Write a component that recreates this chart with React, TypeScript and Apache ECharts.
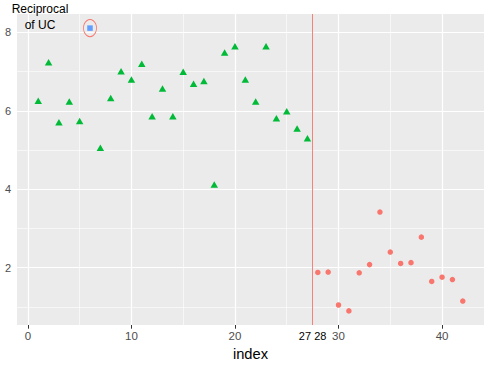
import React, { useEffect, useRef } from "react";
import * as echarts from "echarts";

const greenIndex = [1, 2, 3, 4, 5, 7, 8, 9, 10, 11, 12, 13, 14, 15, 16, 17, 18, 19, 20, 21, 22, 23, 24, 25, 26, 27];
const greenValue = [6.26, 7.24, 5.71, 6.24, 5.74, 5.06, 6.33, 7.01, 6.8, 7.2, 5.86, 6.57, 5.86, 7.0, 6.69, 6.76, 4.12, 7.49, 7.65, 6.8, 6.24, 7.65, 5.81, 5.99, 5.55, 5.3];
const redIndex = [28, 29, 30, 31, 32, 33, 34, 35, 36, 37, 38, 39, 40, 41, 42];
const redValue = [1.88, 1.89, 1.05, 0.9, 1.87, 2.08, 3.42, 2.4, 2.11, 2.13, 2.78, 1.65, 1.76, 1.7, 1.15];
const blueIndex = [6];
const blueValue = [8.11];

const xMajor = [0, 10, 20, 30, 40];
const xMinor = [5, 15, 25, 35];
const yMajor = [2, 4, 6, 8];
const yMinor = [1, 3, 5, 7];
const splitIndex = [27.5];
const splitLabel = "27 28";
const xRange = [-1.05, 44.05];
const yRange = [0.54, 8.47];
const xTitle = "index";
const yTitleLines = ["Reciprocal", "of UC"];

const FONT = "'Liberation Sans', Arial, Helvetica, sans-serif";

export default function App() {
  const ref = useRef<HTMLDivElement>(null);
  useEffect(() => {
    document.body.style.margin = "0";
    const chart = echarts.init(ref.current!, null, { renderer: "svg" });
    const zip = (xs: number[], ys: number[]) => xs.map((x, i) => [x, ys[i]]);
    const gl = (axis: string, values: number[], width: number) =>
      values.map((v) => ({ [axis]: v, lineStyle: { width, color: "#FFFFFF", type: "solid" } }));
    chart.setOption({
      animation: false,
      backgroundColor: "#FFFFFF",
      grid: { left: 17, right: 7, top: 14, bottom: 43, show: true, backgroundColor: "#EBEBEB", borderWidth: 0 },
      title: yTitleLines.map((line, i) => ({
        text: line,
        left: 40,
        top: 2 + i * 15.5,
        textAlign: "center",
        padding: 0,
        textStyle: {
          fontSize: 12,
          fontWeight: "normal",
          fontFamily: FONT,
          color: "#000000",
          lineHeight: 14,
        },
      })),
      xAxis: [
        {
          type: "value",
          min: xRange[0],
          max: xRange[1],
          splitLine: { show: false },
          axisLine: { show: false },
          axisTick: { show: true, customValues: xMajor, length: 3.7, lineStyle: { color: "#333333", width: 1 } },
          axisLabel: { customValues: xMajor, color: "#4D4D4D", fontSize: 11.5, margin: 5, fontFamily: FONT },
          name: xTitle,
          nameLocation: "middle",
          nameGap: 20,
          nameTextStyle: { color: "#000000", fontSize: 14.7, fontFamily: FONT },
        },
        {
          type: "value",
          min: xRange[0],
          max: xRange[1],
          position: "bottom",
          splitLine: { show: false },
          axisLine: { show: false },
          axisTick: { show: false },
          axisLabel: {
            customValues: splitIndex,
            formatter: () => splitLabel,
            color: "#000000",
            fontSize: 11,
            margin: 5,
            fontFamily: FONT,
          },
        },
      ],
      yAxis: {
        type: "value",
        min: yRange[0],
        max: yRange[1],
        splitLine: { show: false },
        axisLine: { show: false },
        axisTick: { show: true, customValues: yMajor, length: 3.7, lineStyle: { color: "#333333", width: 1 } },
        axisLabel: { customValues: yMajor, color: "#4D4D4D", fontSize: 11, margin: 6, fontFamily: FONT },
      },
      series: [
        {
          type: "scatter",
          data: [],
          z: 1,
          markLine: {
            z: 1,
            silent: true,
            symbol: "none",
            label: { show: false },
            emphasis: { disabled: true },
            data: [
              ...gl("xAxis", xMinor, 0.6),
              ...gl("yAxis", yMinor, 0.6),
              ...gl("xAxis", xMajor, 1.2),
              ...gl("yAxis", yMajor, 1.2),
            ],
          },
        },
        {
          type: "scatter",
          z: 3,
          symbol: "triangle",
          symbolSize: [7.5, 6.5],
          itemStyle: { color: "#00BA38", opacity: 1 },
          data: zip(greenIndex, greenValue),
        },
        {
          type: "scatter",
          z: 3,
          symbol: "circle",
          symbolSize: 5.5,
          itemStyle: { color: "#F8766D", opacity: 1 },
          data: zip(redIndex, redValue),
        },
        {
          type: "scatter",
          z: 3,
          symbol: "rect",
          symbolSize: 5.5,
          itemStyle: { color: "#619CFF", opacity: 1 },
          data: zip(blueIndex, blueValue),
        },
        {
          type: "scatter",
          z: 4,
          symbol: "circle",
          symbolSize: [13, 17],
          itemStyle: { color: "rgba(0,0,0,0)", borderColor: "#F8766D", borderWidth: 0.9, opacity: 1 },
          data: zip(blueIndex, blueValue),
          markLine: {
            z: 5,
            silent: true,
            symbol: "none",
            label: { show: false },
            emphasis: { disabled: true },
            lineStyle: { color: "#F8766D", width: 0.9, type: "solid" },
            data: splitIndex.map((v) => ({ xAxis: v })),
          },
        },
      ],
    });
    return () => chart.dispose();
  }, []);
  return <div ref={ref} style={{ width: 491, height: 368 }} />;
}
